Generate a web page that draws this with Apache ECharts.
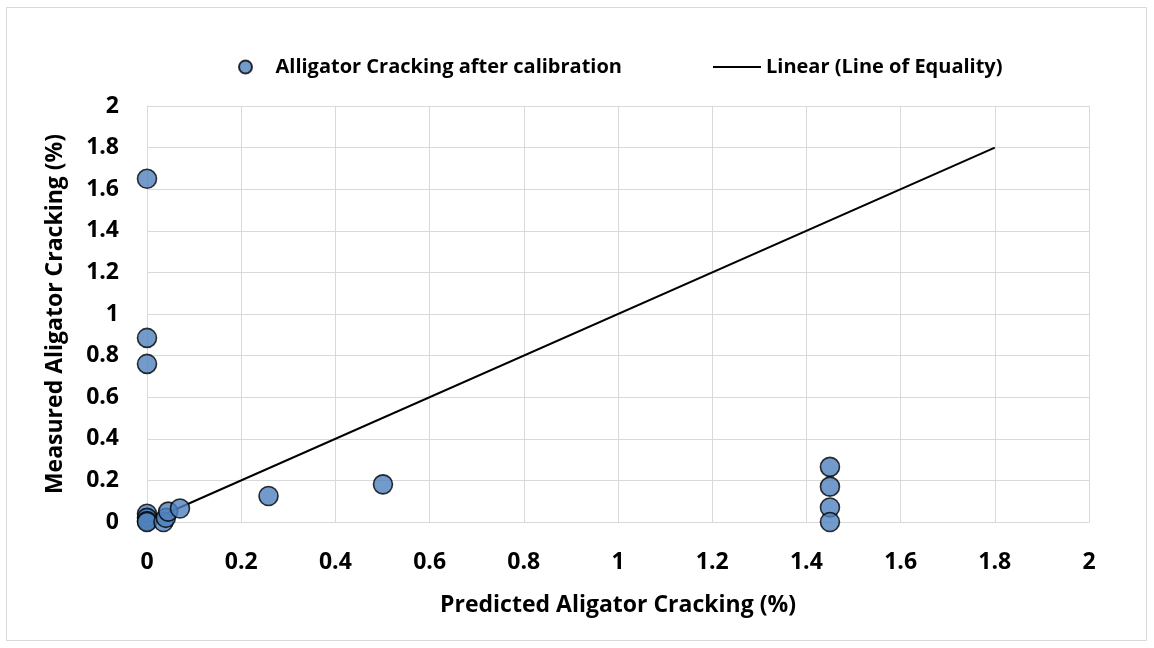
<!DOCTYPE html>
<html>
<head>
<meta charset="utf-8">
<script src="https://cdn.jsdelivr.net/npm/echarts@6/dist/echarts.min.js"></script>
<style>
  html, body { margin: 0; padding: 0; background: #fff; }
  #chart { width: 1154px; height: 648px; }
</style>
</head>
<body>
<div id="chart"></div>
<script>
// Predicted vs measured alligator cracking (%) after calibration
const predicted = [0, 0, 0, 0, 0, 0, 0, 0.035, 0.04, 0.045, 0.07, 0.258, 0.501, 1.45, 1.45, 1.45, 1.45];
const measured  = [1.65, 0.885, 0.76, 0.04, 0.02, 0.005, 0, 0, 0.02, 0.05, 0.065, 0.125, 0.181, 0.265, 0.17, 0.07, 0];

// Line of equality endpoints
const equalityX = [0, 1.8];
const equalityY = [0, 1.8];

const axisTicks = [0, 0.2, 0.4, 0.6, 0.8, 1, 1.2, 1.4, 1.6, 1.8, 2];

const SCATTER_NAME = 'Alligator Cracking after calibration';
const LINE_NAME = 'Linear (Line of Equality)';

const font = '"Open Sans", Lato, sans-serif';
const labelFmt = v => String(Math.round(v * 10) / 10);

const chart = echarts.init(document.getElementById('chart'));
chart.setOption({
  backgroundColor: '#fff',
  animation: false,
  graphic: [{
    type: 'rect',
    shape: { x: 6.5, y: 7.5, width: 1140, height: 633 },
    style: { fill: 'none', stroke: '#d9d9d9', lineWidth: 1 },
    silent: true
  }],
  legend: [
    {
      top: 52,
      left: 233,
      itemWidth: 50,
      itemHeight: 13,
      itemGap: 0,
      textStyle: { fontFamily: font, fontWeight: 'bold', fontSize: 20, color: '#000' },
      data: [{ name: SCATTER_NAME, icon: 'circle' }]
    },
    {
      top: 52,
      left: 708,
      itemWidth: 48,
      itemHeight: 2,
      itemGap: 0,
      textStyle: { fontFamily: font, fontWeight: 'bold', fontSize: 20, color: '#000' },
      data: [{ name: LINE_NAME, icon: 'rect', itemStyle: { color: '#000' } }]
    }
  ],
  grid: { left: 147, right: 65, top: 106, bottom: 126 },
  xAxis: {
    type: 'value',
    min: axisTicks[0],
    max: axisTicks[axisTicks.length - 1],
    interval: 0.2,
    name: 'Predicted Aligator Cracking (%)',
    nameLocation: 'middle',
    nameGap: 72,
    nameTextStyle: { fontFamily: font, fontWeight: 'bold', fontSize: 23, color: '#000' },
    axisLine: { lineStyle: { color: '#d9d9d9' } },
    axisTick: { show: false },
    axisLabel: { fontFamily: font, fontWeight: 'bold', fontSize: 23, color: '#000', margin: 29, formatter: labelFmt },
    splitLine: { lineStyle: { color: '#d9d9d9', width: 1 } }
  },
  yAxis: {
    type: 'value',
    min: axisTicks[0],
    max: axisTicks[axisTicks.length - 1],
    interval: 0.2,
    name: 'Measured Aligator Cracking (%)',
    nameLocation: 'middle',
    nameGap: 80,
    nameTextStyle: { fontFamily: font, fontWeight: 'bold', fontSize: 23, color: '#000' },
    axisLine: { show: true, lineStyle: { color: '#d9d9d9' } },
    axisTick: { show: false },
    axisLabel: { fontFamily: font, fontWeight: 'bold', fontSize: 23, color: '#000', margin: 28, formatter: labelFmt },
    splitLine: { lineStyle: { color: '#d9d9d9', width: 1 } }
  },
  series: [
    {
      name: LINE_NAME,
      type: 'line',
      data: equalityX.map((x, i) => [x, equalityY[i]]),
      showSymbol: false,
      symbol: 'none',
      lineStyle: { color: '#000', width: 2 },
      itemStyle: { color: '#000' },
      z: 2
    },
    {
      name: SCATTER_NAME,
      type: 'scatter',
      data: predicted.map((x, i) => [x, measured[i]]),
      symbol: 'circle',
      symbolSize: 19,
      itemStyle: { color: '#4f81bd', borderColor: '#000', borderWidth: 1.6 },
      z: 3
    }
  ]
});
</script>
</body>
</html>
